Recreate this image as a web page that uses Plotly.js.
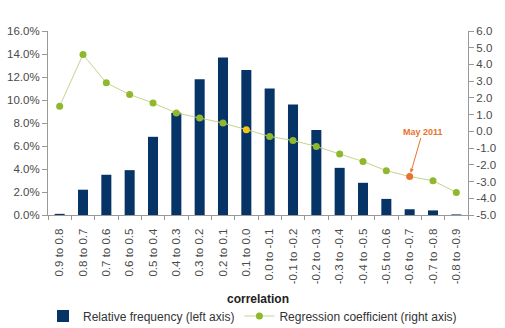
<!DOCTYPE html>
<html>
<head>
<meta charset="utf-8">
<script src="https://cdn.plot.ly/plotly-3.0.1.min.js"></script>
<style>html,body{margin:0;padding:0;background:#fff;}#chart{width:505px;height:328px;}</style>
</head>
<body>
<div id="chart"></div>
<script>
const categories = ["0.9 to 0.8","0.8 to 0.7","0.7 to 0.6","0.6 to 0.5","0.5 to 0.4","0.4 to 0.3","0.3 to 0.2","0.2 to 0.1","0.1 to 0.0","0.0 to -0.1","-0.1 to -0.2","-0.2 to -0.3","-0.3 to -0.4","-0.4 to -0.5","-0.5 to -0.6","-0.6 to -0.7","-0.7 to -0.8","-0.8 to -0.9"];
const relativeFrequency = [0.1,2.2,3.5,3.9,6.8,8.9,11.8,13.7,12.6,11.0,9.6,7.4,4.1,2.8,1.4,0.5,0.4,0.05];
const regressionCoefficient = [1.5,4.6,2.9,2.2,1.7,1.1,0.8,0.5,0.1,-0.3,-0.55,-0.9,-1.35,-1.8,-2.35,-2.7,-2.95,-3.65];
const highlightIndex = {current: 8, may2011: 15};
const leftTicks = [0,2,4,6,8,10,12,14,16];
const rightTicks = [-5,-4,-3,-2,-1,0,1,2,3,4,5,6];
const xAxisTitle = 'correlation';

const markerColors = regressionCoefficient.map((v,i)=> i===highlightIndex.may2011 ? '#e8742c' : (i===highlightIndex.current ? '#f5c316' : '#8fb82c'));

const fam = '"Liberation Sans", Arial, sans-serif';
const tickFont = {family:fam, size:11.5, color:'#4a4a4a'};

const data = [
  {type:'bar', x:categories, y:relativeFrequency, name:'Relative frequency (left axis)',
   marker:{color:'#063466'}, yaxis:'y'},
  {type:'scatter', mode:'lines+markers', x:categories, y:regressionCoefficient, yaxis:'y2',
   name:'Regression coefficient (right axis)',
   line:{color:'#c6d48c', width:1}, marker:{color:markerColors, size:7}}
];

const layout = {
  width:505, height:328,
  margin:{l:48, r:37, t:31, b:113},
  paper_bgcolor:'#fff', plot_bgcolor:'#fff',
  font:{family:fam, size:11, color:'#404040'},
  bargap:0.57,
  showlegend:true,
  legend:{orientation:'h', xref:'container', x:43/505, xanchor:'left',
          yref:'container', y:1-316/328, yanchor:'middle',
          font:{family:fam, size:12, color:'#333'}, itemwidth:30, tracegroupgap:0},
  xaxis:{type:'category', range:[-0.5,17.5], tickangle:-90, ticks:'outside', ticklen:4, tickcolor:'#999',
         tickson:'boundaries', showline:true, linecolor:'#999', linewidth:1, showgrid:false,
         ticklabelstandoff:8, tickfont:tickFont},
  yaxis:{range:[0,16], tickmode:'array', tickvals:leftTicks, ticktext:leftTicks.map(v=>v.toFixed(1)+'%'),
         ticks:'outside', ticklen:5, tickcolor:'#999', showline:true, linecolor:'#999', showgrid:false,
         zeroline:false, tickfont:tickFont},
  yaxis2:{range:[-5,6], overlaying:'y', side:'right', tickmode:'array', tickvals:rightTicks,
          ticktext:rightTicks.map(v=>v.toFixed(1)), ticks:'outside', ticklen:5, tickcolor:'#999',
          showline:true, linecolor:'#999', showgrid:false, zeroline:false, tickfont:tickFont},
  annotations:[
    {x:categories[highlightIndex.may2011], y:regressionCoefficient[highlightIndex.may2011],
     xref:'x', yref:'y2', text:'<b>May 2011</b>', showarrow:true, arrowhead:2, arrowsize:0.8, arrowwidth:1,
     arrowcolor:'#e8742c', ax:13, ay:-45, standoff:4,
     font:{family:fam, size:9, color:'#e8742c'}},
    {x:0.5, y:-84/184, xref:'paper', yref:'paper', xanchor:'center', yanchor:'middle',
     text:'<b>'+xAxisTitle+'</b>', showarrow:false, font:{family:fam, size:12, color:'#222'}}
  ]
};

Plotly.newPlot('chart', data, layout, {displayModeBar:false, staticPlot:true});
</script>
</body>
</html>
